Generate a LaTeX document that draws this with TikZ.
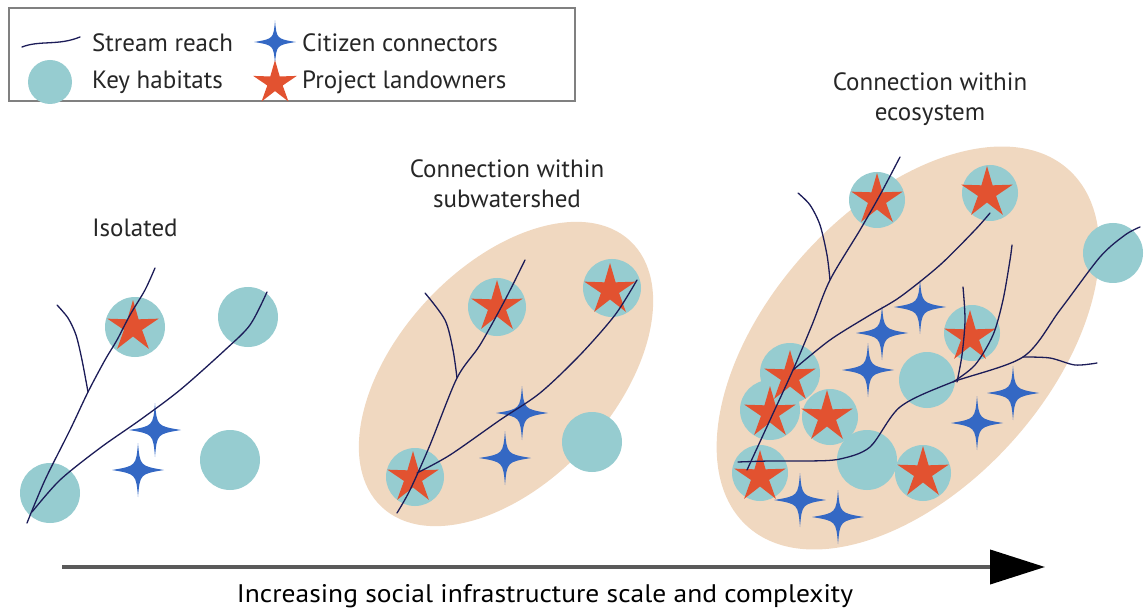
\documentclass[tikz,border=0pt]{standalone}
\usepackage{fontspec}
\setmainfont{PT Sans}
\usetikzlibrary{arrows.meta}
\definecolor{hab}{RGB}{150,204,208}
\definecolor{landtan}{RGB}{240,216,192}
\definecolor{rstarc}{RGB}{226,82,48}
\definecolor{bstarc}{RGB}{52,104,196}
\definecolor{streamc}{RGB}{28,28,88}
\definecolor{arrowgray}{RGB}{90,90,90}
\tikzset{
  habitat/.style={fill=hab},
  land/.style={fill=landtan},
  streamline/.style={draw=streamc, line width=1.3pt, line cap=round, line join=round},
  lbl/.style={font=\fontsize{25}{30}\selectfont, text=black!85, inner sep=0pt, align=center},
  redstar/.pic={\fill[rstarc] (-90:27) -- (-54:9.5) -- (-18:27) -- (18:9.5) -- (54:27) -- (90:9.5) -- (126:27) -- (162:9.5) -- (198:27) -- (234:9.5) -- cycle;},
  bluestar/.pic={\fill[bstarc] (0,-27) .. controls (2,-4) .. (26,0) .. controls (2,4) .. (0,27) .. controls (-2,4) .. (-26,0) .. controls (-2,-4) .. (0,-27) -- cycle;}
}
\begin{document}
\begin{tikzpicture}[x=1pt,y=-1pt]
\useasboundingbox (0,0) rectangle (1148,612);
% ---------- legend ----------
\draw[gray, line width=1.2pt] (9,8) rectangle (575,101);
\draw[streamline] (22,47) .. controls (40,40) and (58,46) .. (80,37);
\node[lbl, anchor=west] (lgs) at (92,43) {Stream reach};
\pic[scale=0.8] at (275,42) {bluestar};
\node[lbl, anchor=west] (lgc) at (302,43) {Citizen connectors};
\fill[habitat] (50,82) circle (22);
\node[lbl, anchor=west] (lgk) at (92,82) {Key habitats};
\pic[scale=0.85] at (275,83) {redstar};
\node[lbl, anchor=west] (lgp) at (302,82) {Project landowners};
% ---------- titles ----------
\node[lbl] (t1) at (135,228) {Isolated};
\node[lbl] (t2) at (507,184) {Connection within\\subwatershed};
\node[lbl] (t3) at (930,99) {Connection within\\ecosystem};
% ---------- panel 1: isolated ----------
\fill[habitat] (135,327) circle (30);
\fill[habitat] (248,317) circle (30);
\fill[habitat] (230,460) circle (30);
\fill[habitat] (50,493) circle (30);
\pic at (133,327) {redstar};
\pic at (155,430) {bluestar};
\pic at (138,470) {bluestar};
\draw[streamline] plot[smooth] coordinates {(27,523) (45,480) (70,430) (88,392) (105,360) (117,340) (130,315) (145,290) (155,268)};
\draw[streamline] plot[smooth] coordinates {(88,392) (82,360) (76,335) (68,318) (57,305)};
\draw[streamline] plot[smooth] coordinates {(32,512) (60,480) (100,448) (140,420) (180,390) (225,350) (250,325) (267,292)};
% ---------- panel 2: subwatershed ----------
\fill[land, rotate around={47:(506,374)}] (506,374) ellipse (182 and 108);
\fill[habitat] (497,307) circle (29);
\fill[habitat] (612,288) circle (29);
\fill[habitat] (592,442) circle (30);
\fill[habitat] (415,477) circle (29);
\pic at (497,307) {redstar};
\pic at (610,290) {redstar};
\pic at (413,478) {redstar};
\pic at (522,413) {bluestar};
\pic at (505,458) {bluestar};
\draw[streamline] plot[smooth] coordinates {(397,513) (410,490) (430,445) (457,378) (480,345) (505,300) (525,260)};
\draw[streamline] plot[smooth] coordinates {(457,378) (453,350) (445,320) (425,293)};
\draw[streamline] plot[smooth] coordinates {(417,473) (450,455) (500,420) (540,393) (580,355) (615,315) (637,280)};
% ---------- panel 3: ecosystem ----------
\fill[land, rotate around={48:(908,348)}] (908,348) ellipse (240 and 140);
\fill[habitat] (877,200) circle (28);
\fill[habitat] (990,193) circle (28);
\fill[habitat] (1113,253) circle (30);
\fill[habitat] (972,333) circle (28);
\fill[habitat] (927,380) circle (28);
\fill[habitat] (790,373) circle (30);
\fill[habitat] (770,410) circle (30);
\fill[habitat] (830,417) circle (28);
\fill[habitat] (867,460) circle (30);
\fill[habitat] (923,473) circle (28);
\fill[habitat] (760,473) circle (28);
\pic at (877,200) {redstar};
\pic at (987,193) {redstar};
\pic at (970,337) {redstar};
\pic at (790,377) {redstar};
\pic at (770,413) {redstar};
\pic at (827,417) {redstar};
\pic at (923,473) {redstar};
\pic at (760,477) {redstar};
\pic at (882,333) {bluestar};
\pic at (920,307) {bluestar};
\pic at (868,370) {bluestar};
\pic at (1013,393) {bluestar};
\pic at (977,423) {bluestar};
\pic at (800,500) {bluestar};
\pic at (838,517) {bluestar};
\draw[streamline] plot[smooth] coordinates {(747,470) (770,420) (793,370) (812,325) (830,280) (860,230) (880,195) (900,157)};
\draw[streamline] plot[smooth] coordinates {(830,280) (827,255) (820,225) (810,205) (798,193)};
\draw[streamline] plot[smooth] coordinates {(793,370) (830,340) (870,315) (900,297) (940,265) (975,230) (990,213)};
\draw[streamline] plot[smooth] coordinates {(738,462) (770,461) (810,461) (840,459) (870,447) (900,407) (950,383) (1023,357) (1060,310) (1100,257) (1125,235) (1140,227)};
\draw[streamline] plot[smooth] coordinates {(1023,357) (1050,358) (1075,365) (1097,363)};
\draw[streamline] plot[smooth] coordinates {(953,382) (975,365) (993,335) (1003,300) (1010,260) (1012,245)};
\draw[streamline] plot[smooth] coordinates {(963,287) (965,320) (962,355) (957,382)};
% ---------- arrow ----------
\coordinate (arrS) at (62,567);
\coordinate (arrE) at (1045,567);
\draw[arrowgray, line width=4pt, -{Triangle[length=55pt, width=34pt, color=black]}] (arrS) -- (arrE);
\node[inner sep=0pt, anchor=base] (arrl) at (545,602) {\resizebox{616pt}{18pt}{Increasing social infrastructure scale and complexity}};
\end{tikzpicture}
\end{document}
